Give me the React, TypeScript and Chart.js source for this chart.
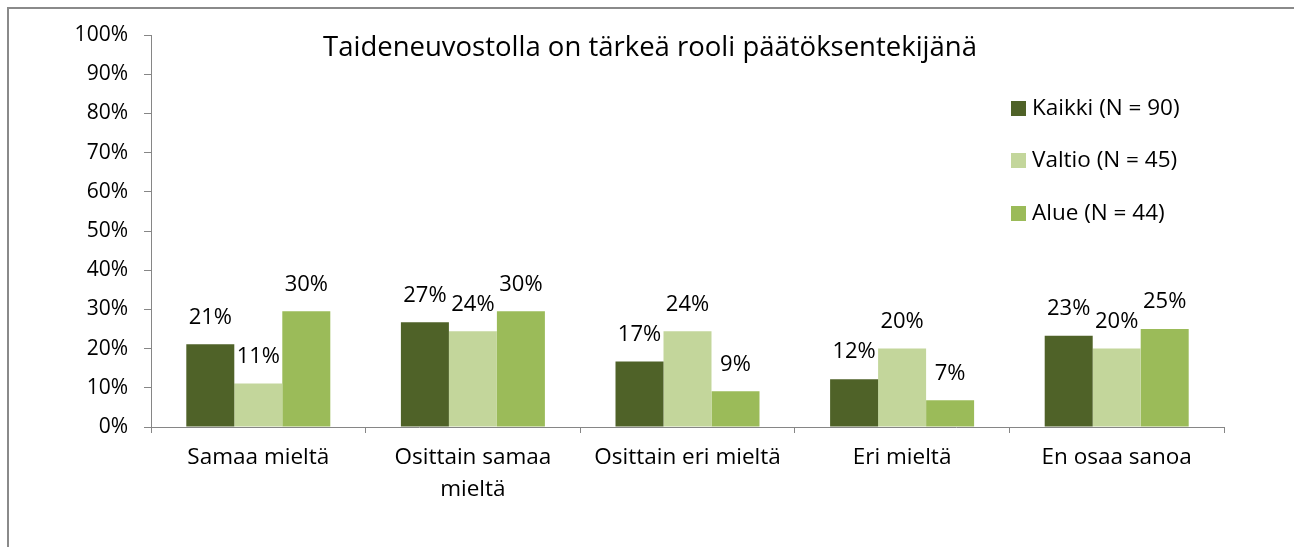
import React, { useEffect, useRef } from "react";
import { Chart, registerables } from "chart.js";

Chart.register(...registerables);

const TITLE = "Taideneuvostolla on tärkeä rooli päätöksentekijänä";
const categories: string[][] = [
  ["Samaa mieltä"],
  ["Osittain samaa", "mieltä"],
  ["Osittain eri mieltä"],
  ["Eri mieltä"],
  ["En osaa sanoa"],
];
const seriesNames = ["Kaikki (N = 90)", "Valtio (N = 45)", "Alue (N = 44)"];
const kaikki = [21.1, 26.7, 16.7, 12.2, 23.3];
const valtio = [11.1, 24.4, 24.4, 20.0, 20.0];
const alue = [29.5, 29.5, 9.1, 6.8, 25.0];
const colors = ["#4F6228", "#C3D69B", "#9BBB59"];
const yTicks = [0, 10, 20, 30, 40, 50, 60, 70, 80, 90, 100];

const FONT = "'Open Sans', 'Noto Sans', sans-serif";
const AXIS = "#868686";

export default function App() {
  const ref = useRef<HTMLCanvasElement | null>(null);
  useEffect(() => {
    if (!ref.current) return;
    const extras = {
      id: "extras",
      afterDraw(chart: any) {
        const ctx = chart.ctx;
        ctx.save();
        // title
        ctx.fillStyle = "#000";
        ctx.font = `27.5px ${FONT}`;
        ctx.textAlign = "center";
        ctx.textBaseline = "middle";
        ctx.fillText(TITLE, 650, 48);
        // legend
        ctx.font = `22.5px ${FONT}`;
        ctx.textAlign = "left";
        const ys = [108, 160, 213];
        seriesNames.forEach((n, i) => {
          ctx.fillStyle = colors[i];
          ctx.fillRect(1011, ys[i] - 7, 15, 15);
          ctx.fillStyle = "#000";
          ctx.fillText(n, 1032, ys[i] + 1);
        });
        // data labels
        ctx.font = `22px ${FONT}`;
        ctx.textAlign = "center";
        ctx.textBaseline = "middle";
        chart.data.datasets.forEach((ds: any, di: number) => {
          const meta = chart.getDatasetMeta(di);
          meta.data.forEach((el: any, i: number) => {
            ctx.fillStyle = "#000";
            ctx.fillText(Math.round(ds.data[i]) + "%", el.x, el.y - 27);
          });
        });
        ctx.restore();
      },
    };
    const chart = new Chart(ref.current, {
      type: "bar",
      data: {
        labels: categories as any,
        datasets: [kaikki, valtio, alue].map((d, i) => ({
          label: seriesNames[i],
          data: d,
          backgroundColor: colors[i],
          borderWidth: 0,
          barPercentage: 1,
          categoryPercentage: 0.671,
        })),
      },
      options: {
        animation: false,
        responsive: false,
        devicePixelRatio: 1,
        layout: { padding: { left: 0, top: 35, right: 70, bottom: 0 } },
        plugins: { legend: { display: false }, title: { display: false }, tooltip: { enabled: false } },
        scales: {
          x: {
            grid: { offset: true, drawOnChartArea: false, drawTicks: true, tickLength: 6, color: AXIS },
            border: { color: AXIS, width: 1 },
            ticks: { color: "#000", font: { family: FONT, size: 22.5, lineHeight: 1.42 }, padding: 9, maxRotation: 0, autoSkip: false },
            afterFit: (s: any) => { s.height = 120; },
          },
          y: {
            min: 0,
            max: 100,
            afterBuildTicks: (s: any) => { s.ticks = yTicks.map((v) => ({ value: v })); },
            grid: { drawOnChartArea: false, drawTicks: true, tickLength: 7, color: AXIS },
            border: { color: AXIS, width: 1 },
            ticks: { color: "#000", font: { family: FONT, size: 21 }, padding: 16, callback: (v: any) => v + "%" },
            afterFit: (s: any) => { s.width = 151; },
          },
        },
      },
      plugins: [extras],
    });
    return () => chart.destroy();
  }, []);
  return (
    <div style={{ position: "absolute", left: 0, top: 0, width: 1294, height: 547, overflow: "hidden", background: "#fff" }}>
      <div style={{ position: "absolute", left: 7, top: 7, width: 1400, height: 700, borderLeft: "2px solid #8a8a8a", borderTop: "2px solid #8a8a8a" }} />
      <canvas ref={ref} width={1294} height={547} style={{ position: "absolute", left: 0, top: 0, width: 1294, height: 547 }} />
    </div>
  );
}
